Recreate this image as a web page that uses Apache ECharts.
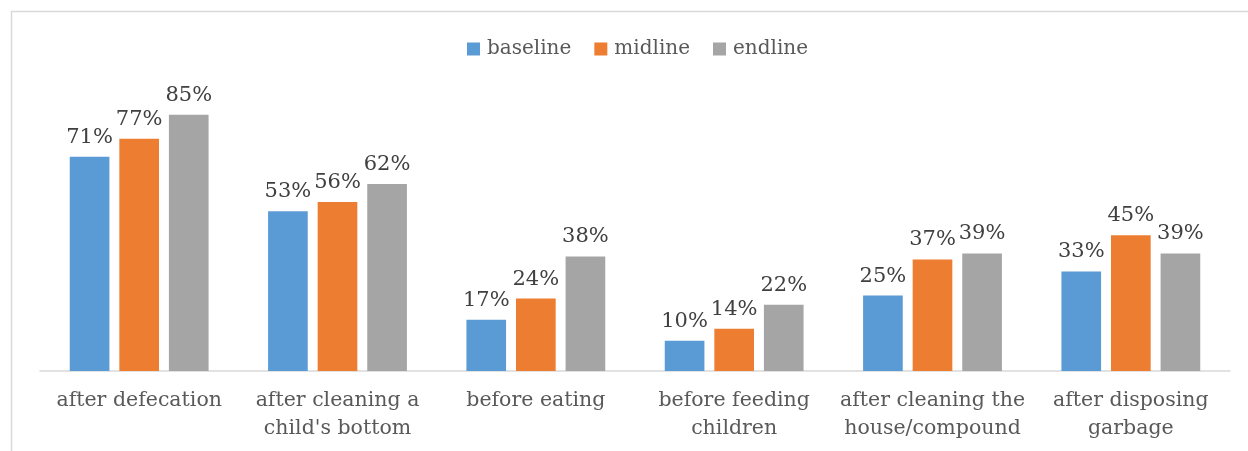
<!DOCTYPE html>
<html>
<head>
<meta charset="utf-8">
<style>
  html, body { margin: 0; padding: 0; background: #fff; }
  #chart { width: 1248px; height: 451px; }
</style>
<script src="https://cdn.jsdelivr.net/npm/echarts@6/dist/echarts.min.js"></script>
</head>
<body>
<div id="chart"></div>
<script>
// Hand-washing moments, share of respondents (%)
const categories = [
  "after defecation",
  "after cleaning a\nchild's bottom",
  "before eating",
  "before feeding\nchildren",
  "after cleaning the\nhouse/compound",
  "after disposing\ngarbage"
];
const baseline = [71, 53, 17, 10, 25, 33];
const midline  = [77, 56, 24, 14, 37, 45];
const endline  = [85, 62, 38, 22, 39, 39];

const FONT = "DejaVu Serif";
const TEXT = "#595959";

const chart = echarts.init(document.getElementById("chart"));

const label = {
  show: true,
  position: "top",
  distance: 9,
  formatter: p => p.value + "%",
  fontFamily: FONT,
  fontSize: 21,
  color: "#404040"
};

function bar(name, data, color) {
  return {
    name, type: "bar", data,
    barWidth: "20%",
    barGap: "25%",
    itemStyle: { color },
    label,
    emphasis: { disabled: true }
  };
}

chart.setOption({
  animation: false,
  graphic: [{
    type: "rect",
    shape: { x: 11.5, y: 11.5, width: 1260, height: 460 },
    style: { fill: "none", stroke: "#d9d9d9", lineWidth: 1.5 },
    silent: true
  }],
  legend: {
    top: 34,
    left: 462,
    itemWidth: 13,
    itemHeight: 13,
    itemGap: 23,
    icon: "rect",
    textStyle: { fontFamily: FONT, fontSize: 20, color: TEXT, padding: [0, 0, 0, 2] }
  },
  grid: { left: 40, right: 18, top: 69.4, bottom: 80 },
  xAxis: {
    type: "category",
    data: categories,
    axisLine: { lineStyle: { color: "#d9d9d9", width: 1.5 } },
    axisTick: { show: false },
    axisLabel: {
      interval: 0,
      margin: 16,
      fontFamily: FONT,
      fontSize: 20.5,
      lineHeight: 28,
      color: TEXT
    }
  },
  yAxis: {
    type: "value",
    min: 0,
    max: 100,
    show: false,
    splitLine: { show: false }
  },
  series: [
    bar("baseline", baseline, "#5b9bd5"),
    bar("midline", midline, "#ed7d31"),
    bar("endline", endline, "#a5a5a5")
  ]
});
</script>
</body>
</html>
